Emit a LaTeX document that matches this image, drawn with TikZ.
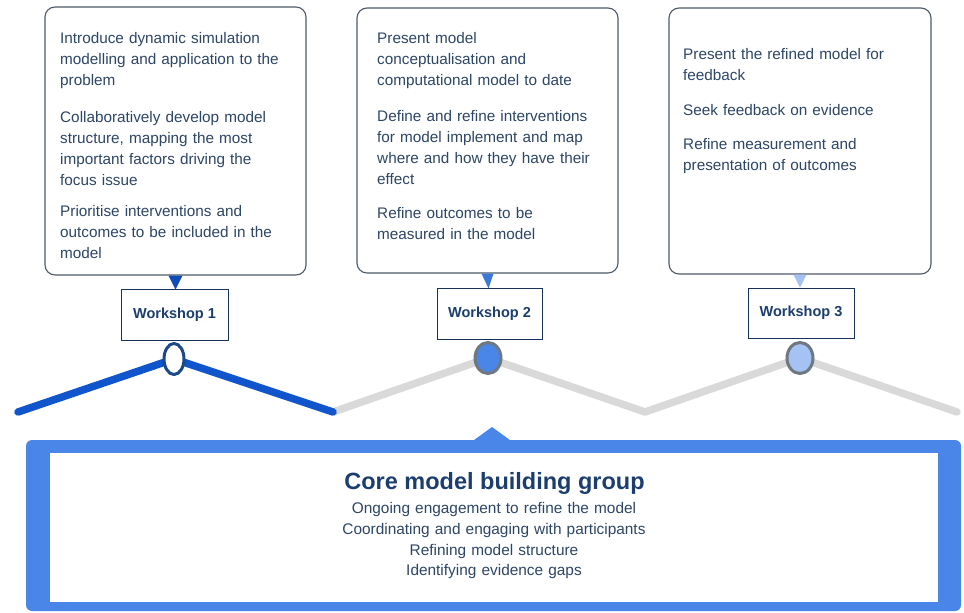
\documentclass[tikz,border=0pt]{standalone}
\usepackage{fontspec}
\setmainfont{Liberation Sans}
\usetikzlibrary{calc}
\definecolor{txtblue}{HTML}{2D4665}
\definecolor{ttlblue}{HTML}{1B3E6F}
\definecolor{boxline}{HTML}{4D5B69}
\definecolor{darkblue}{HTML}{1155CC}
\definecolor{midblue}{HTML}{3C78D8}
\definecolor{lightblue}{HTML}{A4C2F4}
\definecolor{coreblue}{HTML}{4A86E8}
\definecolor{zzgray}{HTML}{D9D9D9}
\definecolor{ringgray}{HTML}{6F7780}
\definecolor{ringblue}{HTML}{1C4A87}
\tikzset{
  infobox/.style={draw=boxline, line width=1.1pt, rounded corners=10pt, fill=white, inner sep=0pt},
  infotext/.style={anchor=base west, inner sep=0pt, text width=250pt, align=left, text=txtblue,
    font=\fontsize{15.3}{21.3}\selectfont},
  wsbox/.style={draw=ttlblue!80!black, line width=1pt, fill=white, minimum width=106pt, minimum height=51pt,
    inner sep=0pt, text=ttlblue, font=\bfseries\fontsize{14.5}{17}\selectfont},
  ring/.style={ellipse, minimum width=26pt, minimum height=31pt, line width=3pt, inner sep=0pt},
  zzline/.style={line width=7.5pt, line cap=round, line join=round},
}
\usetikzlibrary{shapes.geometric}
\begin{document}
\begin{tikzpicture}[x=1pt,y=-1pt]
\useasboundingbox (0,0) rectangle (964,613);

% top boxes
\node[infobox, minimum width=261pt, minimum height=268pt] (b1) at (175.5,141) {};
\node[infobox, minimum width=261pt, minimum height=265pt] (b2) at (487.5,140.5) {};
\node[infobox, minimum width=262pt, minimum height=266pt] (b3) at (800,141) {};

\node[infotext] (t11) at (60,43) {Introduce dynamic simulation\\modelling and application to the\\problem};
\node[infotext] (t12) at (60,122) {Collaboratively develop model\\structure, mapping the most\\important factors driving the\\focus issue};
\node[infotext] (t13) at (60,216) {Prioritise interventions and\\outcomes to be included in the\\model};

\node[infotext] (t21) at (377,43) {Present model\\conceptualisation and\\computational model to date};
\node[infotext] (t22) at (377,121) {Define and refine interventions\\for model implement and map\\where and how they have their\\effect};
\node[infotext] (t23) at (377,218) {Refine outcomes to be\\measured in the model};

\node[infotext] (t31) at (683,59) {Present the refined model for\\feedback};
\node[infotext] (t32) at (683,115) {Seek feedback on evidence};
\node[infotext] (t33) at (683,149) {Refine measurement and\\presentation of outcomes};

% pointers
\fill[darkblue!90!black] ($(b1.south)+(-7,0)$) -- ($(b1.south)+(7,0)$) -- ($(b1.south)+(0,14)$) -- cycle;
\fill[midblue] ($(b2.south)+(-6,0)$) -- ($(b2.south)+(6,0)$) -- ($(b2.south)+(1,15)$) -- cycle;
\fill[lightblue] ($(b3.south)+(-6.5,0)$) -- ($(b3.south)+(6.5,0)$) -- ($(b3.south)+(0,13)$) -- cycle;

% zigzag
\coordinate (z0) at (18,412);
\coordinate (z1) at (333,412);
\coordinate (z2) at (645,412);
\coordinate (z3) at (957,412);
\node[ring, minimum width=20pt] (c1) at (174,359) {};
\node[ring] (c2) at (488,358) {};
\node[ring] (c3) at (800,358) {};
\draw[zzline, zzgray] (z1) -- (c2.center) -- (z2) -- (c3.center) -- (z3);
\draw[zzline, darkblue] (z0) -- (c1.center) -- (z1);
\node[ring, minimum width=20pt, draw=ringblue, fill=white] at (c1) {};
\node[ring, draw=ringgray, fill=coreblue] at (c2) {};
\node[ring, draw=ringgray, fill=lightblue] at (c3) {};

% workshop boxes
\node[wsbox, minimum width=107pt] (w1) at (174.5,314.5) {\raisebox{1.5pt}{Workshop 1}};
\node[wsbox, minimum width=105pt] (w2) at (489.5,313.5) {\raisebox{1pt}{Workshop 2}};
\node[wsbox, minimum height=50pt] (w3) at (801,313) {\raisebox{1.5pt}{Workshop 3}};

% core group
\node[fill=coreblue, rounded corners=6pt, minimum width=935pt, minimum height=171pt, inner sep=0pt] (outer) at (493.5,525.5) {};
\fill[coreblue] (472,441.5) -- (492,427) -- (512,441.5) -- cycle;
\node[fill=white, minimum width=888pt, minimum height=149pt, inner sep=0pt] (core) at (494,527.5) {};
\node[anchor=base, inner sep=0pt, text=ttlblue, font=\bfseries\fontsize{23.5}{28}\selectfont] (ctitle) at (494.5,489.5) {Core model building group};
\node[anchor=base, inner sep=0pt, text width=450pt, align=center, text=txtblue,
  font=\fontsize{15.4}{20.8}\selectfont] (clines) at (494,513.5)
  {Ongoing engagement to refine the model\\Coordinating and engaging with participants\\Refining model structure\\Identifying evidence gaps};
\end{tikzpicture}
\end{document}
